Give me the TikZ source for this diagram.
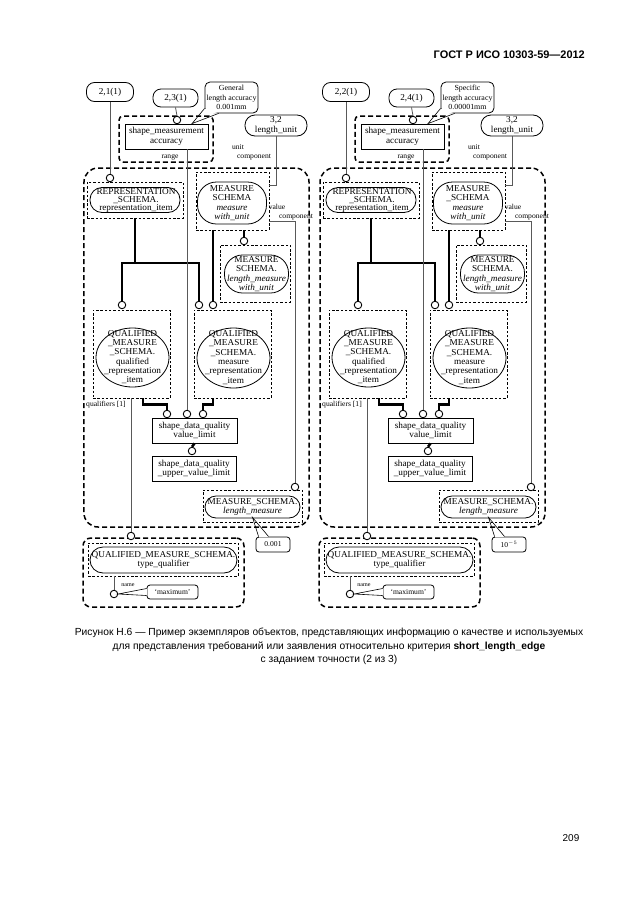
\documentclass[tikz,border=0pt]{standalone}
\usepackage{fontspec}
\setmainfont{Liberation Serif}[FakeStretch=1.02]
\newfontfamily\capfont{Liberation Sans}
\usetikzlibrary{shapes.geometric}
\tikzset{
  dtext/.style={font=\fontsize{9.1}{9.4}\selectfont, align=center, inner sep=0pt},
  lbl/.style={font=\fontsize{7.5}{8}\selectfont, inner sep=0pt},
  sz/.style n args={2}{minimum width=#1bp, minimum height=#2bp},
  solidbox/.style={draw, line width=0.8bp, dtext},
  roundbox/.style={draw, line width=0.8bp, rounded corners=#1, dtext},
  thickdash/.style={draw, line width=1.5bp, dash pattern=on 5bp off 3bp, rounded corners=#1, inner sep=0pt},
  thindash/.style={draw, line width=0.6bp, dash pattern=on 2.5bp off 1.8bp, inner sep=0pt},
  pill/.style={draw, line width=0.8bp, rounded corners=#1, inner sep=0pt},
  oval/.style={draw, ellipse, line width=0.8bp, inner sep=0pt},
  conn/.style={draw=black!65, line width=0.8bp},
  thickline/.style={line width=2.5bp},
  dot/.style={circle, draw, line width=0.9bp, fill=white, minimum size=7.5bp, inner sep=0pt},
  wedge/.style={line width=0.6bp}
}
\newcommand\halfdiag[6]{%
  % top references
  \node[roundbox=8bp, sz={47}{19}] (#1n1) at (110,92) {#2};
  \node[roundbox=8bp, sz={45}{18}] (#1n2) at (175.5,98) {#3};
  \node[roundbox=5bp, sz={53}{31}, font=\fontsize{7.8}{9.5}\selectfont] (#1call) at (231.5,97.5) {#4};
  % shape measurement accuracy
  \node[thickdash=4bp, sz={94}{46}] (#1smaD) at (166,139) {};
  \node[solidbox, sz={83}{25}] (#1sma) at (166.5,136.5) {shape\_measurement\\accuracy};
  \node[lbl] (#1range) at (170,157) {range};
  \node[roundbox=10bp, sz={62}{21}] (#1n32) at (276,125.5) {3,2\\length\_unit};
  \node[lbl] (#1unit) at (238,147) {unit};
  \node[lbl] (#1ucomp) at (254,157) {component};
  % big dashed frame
  \node[thickdash=14bp, sz={225}{359}] (#1big) at (196.5,347.5) {};
  % representation item
  \node[thindash, sz={96}{36}] (#1rsD) at (135,200) {};
  \node[pill=12bp, sz={90}{25}] (#1rsP) at (135,200) {};
  \node[dtext, font=\fontsize{9.1}{8.3}\selectfont] (#1rsT) at (136,200.5) {REPRESENTATION\\\_SCHEMA.\\representation\_item};
  % measure with unit
  \node[thindash, sz={73}{58}] (#1mwuD) at (232.5,201) {};
  \node[pill=19bp, sz={69}{42}] (#1mwuP) at (232,203) {};
  \node[dtext] (#1mwuT) at (232,203) {MEASURE\\#6\\\textit{measure}\\\textit{with\_unit}};
  \node[lbl] (#1val) at (277,207) {value};
  \node[lbl] (#1vcomp) at (296,217) {component};
  % length measure with unit
  \node[thindash, sz={70}{57}] (#1lmwuD) at (255,273.5) {};
  \node[pill=18bp, sz={64}{38}] (#1lmwuP) at (256.5,274) {};
  \node[dtext] (#1lmwuT) at (256.5,274) {MEASURE\\SCHEMA.\\\textit{length\_measure}\\\textit{with\_unit}};
  % qualified representation items
  \node[thindash, sz={77}{88}] (#1qriD) at (131.5,354) {};
  \node[oval, sz={73}{59}] (#1qriE) at (132.5,357.5) {};
  \node[dtext] (#1qriT) at (132.5,357) {QUALIFIED\\\_MEASURE\\\_SCHEMA.\\qualified\\\_representation\\\_item};
  \node[thindash, sz={77}{88}] (#1mriD) at (232.5,354) {};
  \node[oval, sz={73}{60}] (#1mriE) at (233.5,358) {};
  \node[dtext] (#1mriT) at (233.5,357.5) {QUALIFIED\\\_MEASURE\\\_SCHEMA.\\measure\\\_representation\\\_item};
  \node[lbl] (#1qual) at (106,405) {qualifiers [1]};
  % shape data quality
  \node[solidbox, sz={85}{25}] (#1sdq) at (194.5,430.5) {shape\_data\_quality\\value\_limit};
  \node[solidbox, sz={84}{25}] (#1sdqu) at (194,468.5) {shape\_data\_quality\\\_upper\_value\_limit};
  % length measure
  \node[thindash, sz={99}{32}] (#1lmD) at (252.5,506) {};
  \node[pill=11bp, sz={95}{22}] (#1lmP) at (252.5,507) {};
  \node[dtext] (#1lmT) at (252.5,507) {MEASURE\_SCHEMA.\\\textit{length\_measure}};
  \node[roundbox=3bp, sz={34}{15}, font=\fontsize{7.5}{8}\selectfont] (#1vbox) at (273,544.5) {#5};
  % type qualifier
  \node[thickdash=8bp, sz={161}{69}] (#1tqO) at (163.5,572.5) {};
  \node[thindash, sz={150}{33}] (#1tqI) at (163,559.5) {};
  \node[pill=13bp, sz={147}{26}] (#1tqP) at (163.5,560) {};
  \node[dtext] (#1tqT) at (163.5,560) {QUALIFIED\_MEASURE\_SCHEMA.\\type\_qualifier};
  \node[lbl, font=\fontsize{6}{7}\selectfont] (#1name) at (128,585) {name};
  \node[roundbox=3bp, sz={51}{14}, font=\fontsize{7.5}{8}\selectfont] (#1max) at (172.5,592) {`maximum'};
  % circles
  \node[dot] (#1c1) at (110,178) {};
  \node[dot] (#1c2) at (177,120) {};
  \node[dot] (#1c3) at (244,241) {};
  \node[dot] (#1c4) at (122,305) {};
  \node[dot] (#1c5) at (199,305) {};
  \node[dot] (#1c6) at (213,305) {};
  \node[dot] (#1c7) at (167,414) {};
  \node[dot] (#1c8) at (187,414) {};
  \node[dot] (#1c9) at (203,414) {};
  \node[dot] (#1c10) at (192,451) {};
  \node[dot] (#1c11) at (295,487) {};
  \node[dot] (#1c12) at (131,536) {};
  \node[dot] (#1c13) at (114,594) {};
  \coordinate (#1j) at (135,263);
  % connectors
  \draw[conn] (#1n1.south) -- (#1c1.north);
  \draw[conn] (#1n2.south) -- (#1c2.north);
  \draw[conn] (#1n32.south) |- ([yshift=16bp]#1mwuD.east);
  \draw[conn] ([yshift=-20bp]#1mwuD.east) -| (#1c11.north);
  \draw[thickline] (#1c3.north |- #1mwuD.south) -- (#1c3.north);
  \draw[thickline] (#1c6.north |- #1mwuD.south) -- (#1c6.north);
  \draw[thickline] (#1rsD.south) -- (#1j);
  \draw[thickline] (#1c4.north) |- (#1j) -| (#1c5.north);
  \draw[conn] (#1c8.north |- #1sma.south) -- (#1c8.north);
  \draw[thickline] ([xshift=11.5bp]#1qriD.south) -- ++(0,6) -| (#1c7.north);
  \draw[thickline] ([xshift=-19.5bp]#1mriD.south) -- ++(0,6) -| (#1c9.north);
  \draw[thickline] (#1sdq.south) -- (#1c10.north);
  \draw[conn] (#1c12.north |- #1qriD.south) -- (#1c12.north);
  \draw[conn] (#1c13.north |- #1tqI.south) -- (#1c13.north);
  % callout wedges
  \coordinate (#1cb1) at ([yshift=5bp]#1call.south west);
  \coordinate (#1cb2) at ([xshift=14bp]#1call.south west);
  \coordinate (#1ctip) at ([xshift=25.5bp]#1sma.north);
  \fill[white] (#1cb1) -- ([xshift=-1bp,yshift=-1bp]#1call.south west) -- (#1cb2) -- cycle;
  \draw[wedge] (#1cb1) -- (#1ctip) -- (#1cb2);
  \coordinate (#1vb1) at ([xshift=3bp]#1vbox.north west);
  \coordinate (#1vb2) at ([xshift=13bp]#1vbox.north west);
  \coordinate (#1vtip) at ([yshift=1bp]#1lmP.south);
  \fill[white] ([yshift=0.8bp]#1vb1) rectangle ([yshift=-0.8bp]#1vb2);
  \draw[wedge] (#1vb1) -- (#1vtip) -- (#1vb2);
  \coordinate (#1mb1) at ([yshift=3.5bp]#1max.west);
  \coordinate (#1mb2) at ([yshift=-3.5bp]#1max.west);
  \fill[white] ([xshift=-0.8bp]#1mb1) rectangle ([xshift=0.8bp]#1mb2);
  \draw[wedge] (#1mb1) -- (#1c13.east) -- (#1mb2);
}
\begin{document}
\begin{tikzpicture}[x=1bp,y=-1bp]
\useasboundingbox[fill=white] (0,0) rectangle (630,913);
\node[anchor=east, font=\capfont\bfseries\fontsize{11}{12}\selectfont, inner sep=0pt] (hdr) at (585,55) {ГОСТ Р ИСО 10303-59—2012};
\begin{scope}
\halfdiag{L}{2,1(1)}{2,3(1)}{General\\length accuracy\\0.001mm}{0.001}{SCHEMA}
\end{scope}
\begin{scope}[xshift=236bp]
\halfdiag{R}{2,2(1)}{2,4(1)}{Specific\\length accuracy\\0.00001mm}{10$^{-5}$}{\_SCHEMA}
\end{scope}
\node[font=\capfont\fontsize{10.3}{13.5}\selectfont, align=center, inner sep=0pt] (cap) at (329,646.5) {Рисунок Н.6 — Пример экземпляров объектов, представляющих информацию о качестве и используемых\\для представления требований или заявления относительно критерия \textbf{short\_length\_edge}\\с заданием точности (2 из 3)};
\node[font=\capfont\fontsize{10}{12}\selectfont, inner sep=0pt] (pg) at (571,838) {209};
\end{tikzpicture}
\end{document}
